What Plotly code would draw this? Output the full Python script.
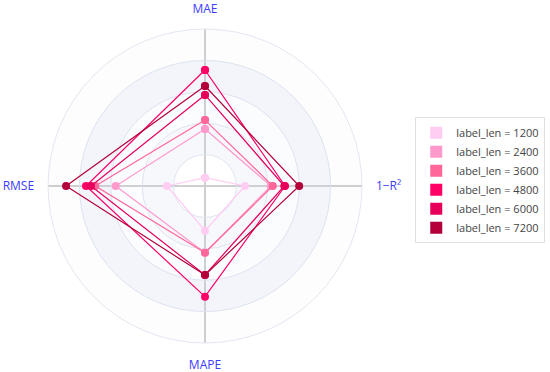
import plotly.graph_objects as go

metrics = ["MAE", "1−R²", "MAPE", "RMSE"]
series_names = ["label_len = 1200", "label_len = 2400", "label_len = 3600",
                "label_len = 4800", "label_len = 6000", "label_len = 7200"]
colors = ["#ffccf2", "#ff99cc", "#ff6699", "#ff0066", "#e6005c", "#b3003b"]

# normalised scores per metric (order: MAE, 1-R², MAPE, RMSE)
v1200 = [0.053, 0.255, 0.285, 0.242]
v2400 = [0.363, 0.420, 0.425, 0.569]
v3600 = [0.420, 0.432, 0.425, 0.699]
v4800 = [0.739, 0.510, 0.705, 0.758]
v6000 = [0.580, 0.505, 0.567, 0.726]
v7200 = [0.637, 0.600, 0.567, 0.885]
values = [v1200, v2400, v3600, v4800, v6000, v7200]

band_edges = [0.0, 0.2, 0.4, 0.6, 0.8, 1.0]
band_colors = ["rgba(255,255,255,0)", "rgba(200,210,235,0.16)",
               "rgba(200,210,235,0.07)", "rgba(200,210,235,0.22)",
               "rgba(200,210,235,0.04)"]

n = len(metrics)
theta_deg = [i * 360 / n for i in range(n)]

fig = go.Figure()

# alternating background bands
fig.add_trace(go.Barpolar(
    r=[band_edges[i + 1] - band_edges[i] for i in range(len(band_edges) - 1)],
    base=band_edges[:-1],
    theta=[0] * (len(band_edges) - 1),
    width=[360] * (len(band_edges) - 1),
    marker=dict(color=band_colors, line=dict(width=0)),
    showlegend=False, hoverinfo="skip",
))

for name, col, vals in zip(series_names, colors, values):
    fig.add_trace(go.Scatterpolar(
        r=vals + vals[:1],
        theta=theta_deg + theta_deg[:1],
        mode="lines+markers",
        line=dict(color=col, width=1.2),
        marker=dict(color=col, size=8),
        name=name, legendgroup=name, showlegend=False,
    ))
    # legend swatch
    fig.add_trace(go.Barpolar(
        r=[0], theta=[0], width=[1],
        marker=dict(color=col, line=dict(width=0)),
        name=name, legendgroup=name, showlegend=True, hoverinfo="skip",
    ))

fig.update_layout(
    width=550, height=372,
    margin=dict(l=0, r=0, t=0, b=0, autoexpand=False),
    paper_bgcolor="white",
    font=dict(family="Open Sans", size=12, color="#333333"),
    polar=dict(
        domain=dict(x=[(205 - 157) / 550, (205 + 157) / 550],
                    y=[(186 - 157) / 372, (186 + 157) / 372]),
        bgcolor="white",
        barmode="overlay",
        radialaxis=dict(range=[0, 1], tickvals=[0.2, 0.4, 0.6, 0.8, 1.0],
                        showticklabels=False, ticks="", showline=False,
                        gridcolor="#e2e7f1", gridwidth=1),
        angularaxis=dict(rotation=90, direction="clockwise",
                         tickmode="array", tickvals=theta_deg, ticktext=metrics,
                         tickfont=dict(color="#3c3cff", size=12, family="Open Sans"),
                         ticks="outside", ticklen=11, tickcolor="rgba(0,0,0,0)",
                         showline=True, linecolor="#e2e7f1", linewidth=1,
                         gridcolor="#cfcfcf", gridwidth=1.5),
    ),
    legend=dict(x=0.755, y=0.685, xanchor="left", yanchor="top",
                bordercolor="#e0e0e0", borderwidth=1, bgcolor="white",
                tracegroupgap=0,
                font=dict(size=11, color="#444444", family="Open Sans"),
                itemwidth=30),
    showlegend=True,
)

fig.write_html("out.html", config={"displayModeBar": False},
               post_script="document.body.style.margin='0';")
